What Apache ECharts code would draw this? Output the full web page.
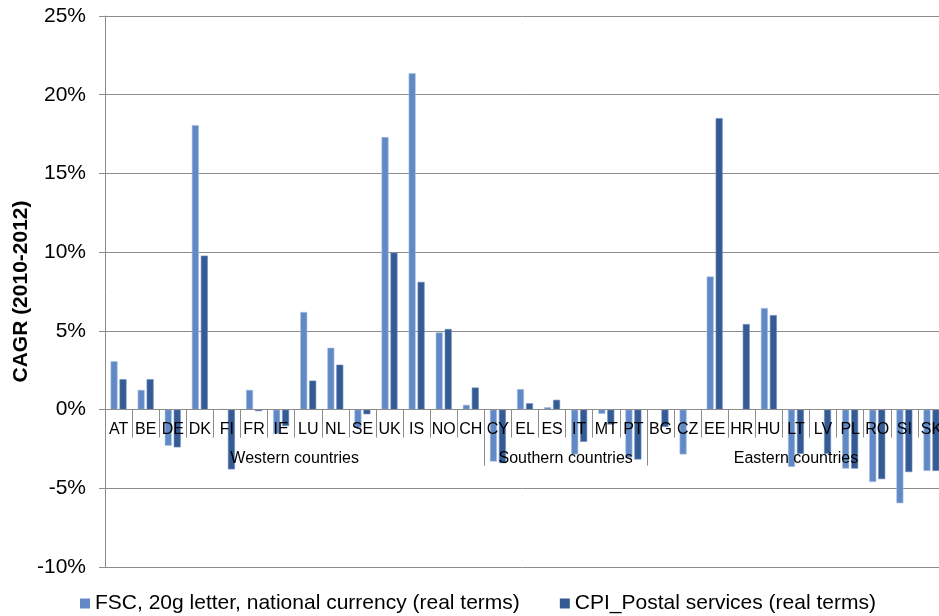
<!DOCTYPE html>
<html>
<head>
<meta charset="utf-8">
<script src="https://cdn.jsdelivr.net/npm/echarts@6/dist/echarts.min.js"></script>
<style>
html,body{margin:0;padding:0;background:#fff;}
#c{width:939px;height:616px;}
</style>
</head>
<body>
<div id="c"></div>
<script>
// ---- data ----
const categories = ['AT','BE','DE','DK','FI','FR','IE','LU','NL','SE','UK','IS','NO','CH',
  'CY','EL','ES','IT','MT','PT',
  'BG','CZ','EE','HR','HU','LT','LV','PL','RO','SI','SK'];
const fscValues = [3.07, 1.25, -2.3, 18.07, 0.02, 1.25, -1.55, 6.2, 3.93, -1.15, 17.31, 21.37, 4.9, 0.3,
  -3.3, 1.3, 0.15, -2.85, -0.27, -3.05,
  null, -2.85, 8.45, null, 6.45, -3.64, null, -3.75, -4.6, -5.95, -3.9];
const cpiValues = [1.93, 1.93, -2.4, 9.78, -3.8, -0.1, -1.05, 1.84, 2.85, -0.3, 9.97, 8.11, 5.12, 1.4,
  -3.4, 0.4, 0.62, -2.05, -0.95, -3.17,
  -1.1, null, 18.51, 5.43, 6.0, -2.81, -2.81, -3.75, -4.42, -3.97, -3.9];
const groupNames = ['Western countries', 'Southern countries', 'Eastern countries'];
const groupSizes = [14, 6, 11];
const seriesNames = ['FSC, 20g letter, national currency (real terms)', 'CPI_Postal services (real terms)'];
const yMin = -10, yMax = 25, yStep = 5;

// ---- derived group positions (in category units) ----
const groupBounds = [0];
groupSizes.forEach(s => groupBounds.push(groupBounds[groupBounds.length - 1] + s));
const groupCenters = groupNames.map((_, i) => (groupBounds[i] + groupBounds[i + 1]) / 2);

const gridTop = 16, gridBottom = 49, chartH = 616;
const gridBox = {left: 105, right: -6, top: gridTop, bottom: gridBottom, outerBoundsMode: 'none'};
// distance (px) from the bottom of the plot to the zero line
const plotH = chartH - gridTop - gridBottom;
const zeroOffset = -plotH * (0 - yMin) / (yMax - yMin);
const grey = '#8c8c8c';
const font = '"Liberation Sans", Arial, sans-serif';

const chart = echarts.init(document.getElementById('c'), null, {renderer: 'canvas'});
chart.setOption({
  animation: false,
  backgroundColor: '#fff',
  textStyle: {fontFamily: font},
  grid: [Object.assign({}, gridBox), Object.assign({}, gridBox)],
  legend: {
    left: 75, top: 588,
    icon: 'rect', itemWidth: 10, itemHeight: 10, itemGap: 40,
    itemStyle: {borderWidth: 0},
    textStyle: {fontSize: 21, color: '#000', fontFamily: font},
    data: seriesNames
  },
  xAxis: [
    {
      type: 'category', gridIndex: 0, data: categories, z: 10,
      position: 'bottom', offset: zeroOffset,
      axisLine: {onZero: false, lineStyle: {color: grey, width: 1}},
      axisTick: {show: true, interval: 0, length: 28, lineStyle: {color: grey}},
      axisLabel: {interval: 0, fontSize: 16, color: '#000', margin: 12, fontFamily: font},
      splitLine: {show: false}
    },
    {
      type: 'value', gridIndex: 1, min: 0, max: categories.length, z: 10,
      position: 'bottom', offset: zeroOffset,
      axisLine: {show: true, onZero: false, lineStyle: {color: grey}},
      axisTick: {show: true, customValues: groupBounds, length: 56, lineStyle: {color: grey}},
      axisLabel: {
        customValues: groupCenters, fontSize: 16, color: '#000', margin: 41, fontFamily: font,
        hideOverlap: false, showMinLabel: true, showMaxLabel: true,
        formatter: v => groupNames[groupCenters.indexOf(v)] || ''
      },
      splitLine: {show: false}
    }
  ],
  yAxis: [
    {
      type: 'value', gridIndex: 0, min: yMin, max: yMax, interval: yStep,
      name: 'CAGR (2010-2012)', nameLocation: 'middle', nameGap: 73, nameMoveOverlap: false,
      nameTextStyle: {fontSize: 21, fontWeight: 'bold', color: '#000', fontFamily: font},
      axisLine: {show: true, onZero: false, lineStyle: {color: grey}},
      axisTick: {show: true, length: 6, lineStyle: {color: grey}},
      axisLabel: {formatter: '{value}%', fontSize: 21, color: '#000', margin: 19, fontFamily: font},
      splitLine: {show: true, lineStyle: {color: grey, width: 1}}
    },
    {
      type: 'value', gridIndex: 1, min: yMin, max: yMax, interval: yStep, show: false,
      splitLine: {show: false}
    }
  ],
  series: [
    {
      name: seriesNames[0], type: 'bar', xAxisIndex: 0, yAxisIndex: 0,
      data: fscValues, barWidth: 7, barGap: '28%',
      itemStyle: {color: '#6189c6', borderColor: '#a8c0e4', borderWidth: 0.6}
    },
    {
      name: seriesNames[1], type: 'bar', xAxisIndex: 0, yAxisIndex: 0,
      data: cpiValues, barWidth: 7, barGap: '28%',
      itemStyle: {color: '#355b95', borderColor: '#6f8dbd', borderWidth: 0.6}
    }
  ]
});
</script>
</body>
</html>
